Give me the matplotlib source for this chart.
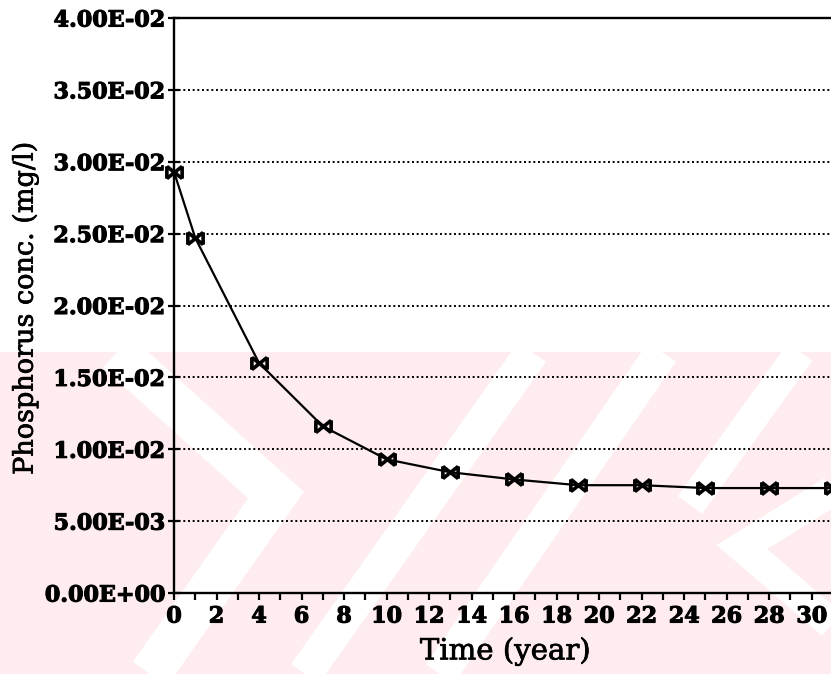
import matplotlib
matplotlib.use("Agg")
import matplotlib.pyplot as plt
import matplotlib.patheffects as pe
from matplotlib.path import Path
from matplotlib.patches import Rectangle
from matplotlib.lines import Line2D
from matplotlib.ticker import FixedLocator, MultipleLocator

# ---- data ----
time_year = [0, 1, 4, 7, 10, 13, 16, 19, 22, 25, 28, 31]
phosphorus = [0.0293, 0.0247, 0.0160, 0.0116, 0.0093, 0.0084, 0.0079,
              0.0075, 0.0075, 0.0073, 0.0073, 0.0073]
y_ticks = [0.0, 0.005, 0.010, 0.015, 0.020, 0.025, 0.030, 0.035, 0.040]
y_tick_labels = ["0.00E+00", "5.00E-03", "1.00E-02", "1.50E-02", "2.00E-02",
                 "2.50E-02", "3.00E-02", "3.50E-02", "4.00E-02"]
x_ticks = list(range(0, 31, 2))
x_tick_labels = [str(v) for v in x_ticks]

W, H = 831, 674
fig = plt.figure(figsize=(W / 100, H / 100), dpi=100)
fig.patch.set_facecolor("white")

# ---- faint watermark in background ----
def fx(px):
    return px / W

def fy(py):
    return 1 - py / H

pink = "#feecef"
band = Rectangle((0, 0), 1, fy(352), transform=fig.transFigure,
                 facecolor=pink, edgecolor="none", zorder=-5)
fig.patches.append(band)
stripes = [
    ([117, 276, 150], [352, 495, 674], 42),
    ([532, 305], [352, 674], 34),
    ([662, 440], [352, 674], 34),
    ([800, 690], [352, 505], 30),
    ([850, 742, 850], [480, 547, 640], 30),
]
for xs, ys, w in stripes:
    ln = Line2D([fx(v) for v in xs], [fy(v) for v in ys], transform=fig.transFigure,
                color="white", linewidth=w * 0.72, solid_capstyle="butt",
                solid_joinstyle="miter", zorder=-4)
    ln.set_clip_path(band)
    fig.lines.append(ln)

# ---- axes ----
ax = fig.add_axes([174 / W, 1 - 593 / H, (833 - 174) / W, (593 - 18) / H])
ax.set_facecolor("none")
ax.set_xlim(0, 31)
ax.set_ylim(0, 0.04)

# marker: bow-tie cross
verts = [(-1, -0.8), (1, 0.8), (-1, 0.8), (1, -0.8),
         (-1, -0.8), (-1, 0.8), (1, -0.8), (1, 0.8)]
codes = [Path.MOVETO, Path.LINETO, Path.MOVETO, Path.LINETO,
         Path.MOVETO, Path.LINETO, Path.MOVETO, Path.LINETO]
bowtie = Path(verts, codes)

ax.plot(time_year, phosphorus, color="black", linewidth=1.6,
        marker=bowtie, markersize=11, markeredgewidth=2.6,
        markerfacecolor="none", markeredgecolor="black", clip_on=False, zorder=5)

# grid
for yv in y_ticks[1:-1]:
    ax.axhline(yv, color="black", linewidth=1.4, linestyle=(0, (1.0, 1.4)), zorder=2)

for s in ["left", "bottom", "top"]:
    ax.spines[s].set_linewidth(1.7)
    ax.spines[s].set_color("black")
ax.spines["right"].set_linewidth(1.2)
ax.spines["right"].set_linestyle((0, (1.0, 1.5)))

ax.yaxis.set_major_locator(FixedLocator(y_ticks))
ax.set_yticklabels(y_tick_labels)
ax.xaxis.set_major_locator(FixedLocator(x_ticks))
ax.set_xticklabels(x_tick_labels)
ax.xaxis.set_minor_locator(MultipleLocator(1))

ax.tick_params(axis="y", direction="inout", length=9, width=1.6, pad=2)
ax.tick_params(axis="x", which="both", direction="out", length=5, width=1.6, pad=4)

stroke = [pe.withStroke(linewidth=0.8, foreground="black")]
for lab in ax.get_yticklabels() + ax.get_xticklabels():
    lab.set_fontfamily(["DejaVu Serif"])
    lab.set_fontweight("bold")
    lab.set_fontsize(16)
    lab.set_path_effects(stroke)

lab_stroke = [pe.withStroke(linewidth=0.5, foreground="black")]
fig.text(25 / W, 1 - 308 / H, "Phosphorus conc. (mg/l)", rotation=90,
         ha="center", va="center", family=["DejaVu Serif"], size=19.5,
         path_effects=lab_stroke)
fig.text(505 / W, 1 - 651 / H, "Time (year)", ha="center", va="center",
         family=["DejaVu Serif"], size=21, path_effects=lab_stroke)

fig.savefig("out.png", dpi=100)
